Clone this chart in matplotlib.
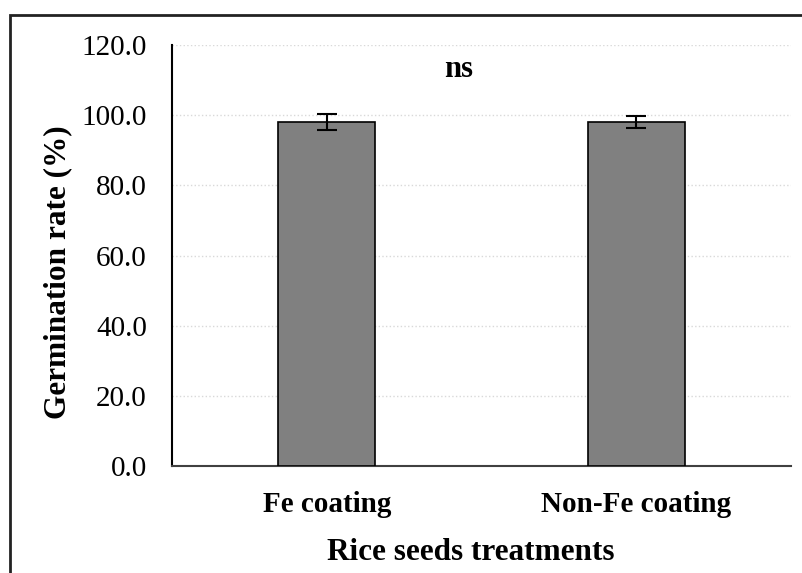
import matplotlib
matplotlib.use("Agg")
import matplotlib.pyplot as plt
from matplotlib.patches import Rectangle

categories = ["Fe coating", "Non-Fe coating"]
values = [98.0, 98.0]
errors = [2.2, 1.7]
yticks = [0, 20, 40, 60, 80, 100, 120]

plt.rcParams['font.family'] = ['Liberation Serif', 'DejaVu Serif']

fig = plt.figure(figsize=(8.03, 5.73), dpi=100)
W, H = 803, 573
ax = fig.add_axes([172 / W, 1 - 466 / H, (791 - 172) / W, (466 - 45) / H])

x = list(range(len(categories)))
ax.bar(x, values, width=0.313, color='#808080', edgecolor='black', linewidth=1.2,
       yerr=errors, capsize=7, error_kw=dict(ecolor='black', elinewidth=1.5, capthick=1.5),
       zorder=3)

ax.set_xlim(-0.5, 1.5)
ax.set_ylim(0, 120)
ax.set_yticks(yticks)
ax.set_yticklabels([f"{v:.1f}" for v in yticks], fontsize=21)
ax.set_xticks(x)
ax.set_xticklabels(categories, fontsize=21, fontweight='bold')
ax.tick_params(axis='both', length=0)
ax.tick_params(axis='y', pad=18)
ax.tick_params(axis='x', pad=18)

ax.grid(axis='y', color='#d9d9d9', linestyle=':', linewidth=1.0, zorder=0)
for s in ['top', 'right']:
    ax.spines[s].set_visible(False)
ax.spines['left'].set_color('black')
ax.spines['left'].set_linewidth(1.5)
ax.spines['bottom'].set_color('#404040')
ax.spines['bottom'].set_linewidth(1.5)

ax.set_ylabel("Germination rate (%)", fontsize=22.5, fontweight='bold')
ax.yaxis.set_label_coords((72 - 172) / 619, (466 - 272) / 421)
ax.set_xlabel("Rice seeds treatments", fontsize=22.5, fontweight='bold')
ax.xaxis.set_label_coords((471 - 172) / 619, -(538 - 466) / 421)

ax.text(0.427, 110.9, "ns", fontsize=22, fontweight='bold', ha='center', va='baseline')

# outer frame
fig.patches.append(Rectangle((10 / W, -0.1), 1.2, 1 - 15 / H + 0.1, transform=fig.transFigure,
                             fill=False, edgecolor='#222222', linewidth=2.0))

fig.savefig("out.png", dpi=100)
